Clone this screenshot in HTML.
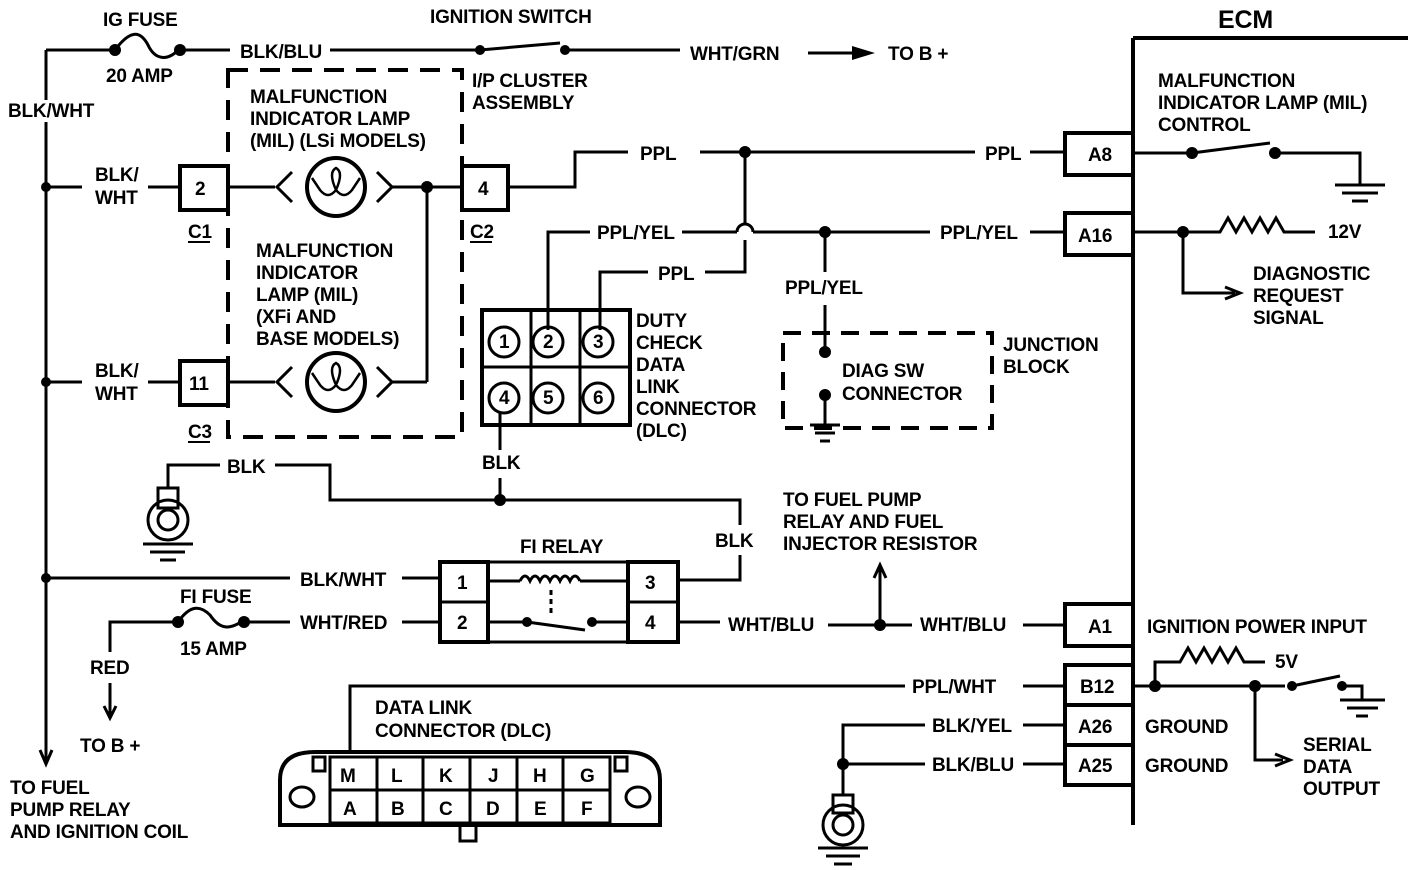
<!DOCTYPE html>
<html><head><meta charset="utf-8"><style>
html,body{margin:0;padding:0;background:#fff;}
svg{display:block;}
text{font-family:"Liberation Sans",sans-serif;font-weight:bold;font-size:19px;fill:#000;letter-spacing:-0.2px;}
</style></head><body>
<svg width="1408" height="870" viewBox="0 0 1408 870" xmlns="http://www.w3.org/2000/svg">
<g stroke="#000" stroke-width="3" fill="none">
<path d="M46 50 V100 M46 122 V760"/>
<path d="M46 50 H115"/>
<path d="M115 50 C130 30,140 30,148 45 C155 60,168 62,180 48"/>
<path d="M180 50 H230 M330 50 H480 M480 50 L560 43 M565 50 H680 M808 53 H860"/>
<rect x="228" y="70" width="234" height="367" stroke-dasharray="20,12" stroke-width="4"/>
<path d="M46 187 H82 M148 187 H180"/>
<rect x="180" y="166" width="48" height="44" stroke-width="4"/>
<path d="M228 187 H275 M390 187 H462"/>
<circle cx="336" cy="187" r="29" stroke-width="4"/>
<path d="M292 172 L277 187 L292 202 M377 172 L392 187 L377 202"/>
<path d="M312 178 L320 190 Q328 200 336 190 Q344 200 352 190 L360 178 M336 190 Q328 172 336 168 Q344 172 336 190" stroke-width="2.5"/>
<path d="M427 187 V382 M390 382 H427"/>
<path d="M46 382 H82 M148 382 H180"/>
<rect x="180" y="361" width="48" height="44" stroke-width="4"/>
<path d="M228 382 H275"/>
<circle cx="336" cy="382" r="29" stroke-width="4"/>
<path d="M292 367 L277 382 L292 397 M377 367 L392 382 L377 397"/>
<path d="M312 373 L320 385 Q328 395 336 385 Q344 395 352 385 L360 373 M336 385 Q328 367 336 363 Q344 367 336 385" stroke-width="2.5"/>
<rect x="462" y="166" width="46" height="44" stroke-width="4"/>
<path d="M508 187 H575 V152 H628 M700 152 H975 M1030 152 H1065"/>
<path d="M188 242 H210 M470 242 H492 M188 442 H210" stroke-width="2"/>
<path d="M548 330 V232 H590 M682 232 H737 M753 232 H930 M1030 232 H1065"/>
<path d="M737 232 A8 8 0 0 1 753 232"/>
<path d="M745 152 V224 M745 240 V272 H705 M648 272 H600 V330"/>
<path d="M825 232 V272 M825 305 V352 M825 395 V425"/>
<path d="M810 425 H840 M815 433 H835 M820 441 H830"/>
<rect x="783" y="333" width="209" height="95" stroke-dasharray="18,11" stroke-width="4"/>
<rect x="1065" y="133" width="68" height="42" stroke-width="4"/>
<rect x="1065" y="213" width="68" height="42" stroke-width="4"/>
<rect x="482" y="310" width="148" height="115" stroke-width="4"/>
<path d="M531 310 V425 M580 310 V425 M482 367 H630"/>
<circle cx="504" cy="342" r="15"/><circle cx="548" cy="342" r="15"/><circle cx="598" cy="342" r="15"/>
<circle cx="504" cy="398" r="15"/><circle cx="548" cy="398" r="15"/><circle cx="598" cy="398" r="15"/>
<path d="M500 413 V450 M500 478 V500"/>
<path d="M168 488 V465 H220 M275 465 H330 V500 H740 V525 M740 555 V580 H680"/>
<rect x="158" y="488" width="20" height="20"/>
<circle cx="168" cy="520" r="20"/><circle cx="168" cy="520" r="10"/>
<path d="M143 544 H193 M150 552 H185 M160 560 H176"/>
<path d="M46 578 H290 M402 578 H440"/>
<rect x="440" y="562" width="48" height="80" stroke-width="4"/>
<path d="M440 602 H488"/>
<rect x="628" y="562" width="50" height="80" stroke-width="4"/>
<path d="M628 602 H678"/>
<path d="M488 562 H628 M488 642 H628"/>
<path d="M488 581 H520 M580 581 H628 M520 581 q5 -10 10 0 q5 -10 10 0 q5 -10 10 0 q5 -10 10 0 q5 -10 10 0 q5 -10 10 0"/>
<path d="M551 590 V615" stroke-dasharray="5,4"/>
<path d="M488 622 H526 M527 622 L585 630 M595 622 H628"/>
<path d="M110 652 V622 H178 M178 622 C190 605,200 605,210 615 C220 630,230 630,244 620 M244 622 H290 M402 622 H440"/>
<path d="M110 683 V715"/>
<path d="M104 706 L110 718 L116 706"/>
<path d="M40 750 L46 764 L52 750"/>
<path d="M678 622 H720 M828 625 H912 M1023 625 H1065 M880 625 V568"/>
<path d="M874 578 L880 565 L886 578"/>
<rect x="1065" y="604" width="68" height="42" stroke-width="4"/>
<path d="M1133 38 V825" stroke-width="4"/>
<path d="M1133 38 H1408" stroke-width="4"/>
<rect x="1065" y="665" width="68" height="40" stroke-width="4"/>
<rect x="1065" y="705" width="68" height="40" stroke-width="4"/>
<rect x="1065" y="745" width="68" height="40" stroke-width="4"/>
<path d="M350 750 V686 H905 M1023 686 H1065"/>
<path d="M843 795 V725 H925 M1023 725 H1065 M843 764 H925 M1023 764 H1065"/>
<rect x="833" y="795" width="20" height="18"/>
<circle cx="843" cy="825" r="20"/><circle cx="843" cy="825" r="10"/>
<path d="M818 848 H868 M826 856 H860 M834 864 H852"/>
<path d="M1133 153 H1192 M1192 153 L1270 143 M1275 153 H1360 V185 M1335 185 H1385 M1342 193 H1378 M1352 201 H1368"/>
<path d="M1133 232 H1220 l8 -14 l8 14 l8 -14 l8 14 l8 -14 l8 14 l8 -14 l8 14 H1315 M1183 232 V293 H1235"/>
<path d="M1225 287 L1240 293 L1225 299"/>
<path d="M1133 686 H1285 M1155 686 V662 H1180 l8 -14 l8 14 l8 -14 l8 14 l8 -14 l8 14 l8 -14 l8 14 H1265"/>
<path d="M1292 686 L1340 676 M1342 686 H1362 V700 M1340 700 H1385 M1347 708 H1378 M1356 716 H1368"/>
<path d="M1255 686 V760 H1283 M1275 754 L1290 760 L1275 766"/>
<path d="M280 825 V780 Q280 752 315 752 H625 Q660 752 660 780 V825 Z" stroke-width="4"/>
<rect x="330" y="757" width="280" height="66"/>
<path d="M330 790 H610 M377 757 V823 M423 757 V823 M470 757 V823 M517 757 V823 M563 757 V823"/>
<rect x="313" y="757" width="12" height="14"/><rect x="615" y="757" width="12" height="14"/>
<ellipse cx="302" cy="797" rx="12" ry="10"/><ellipse cx="638" cy="797" rx="12" ry="10"/>
<rect x="460" y="825" width="16" height="16"/>
</g>
<g fill="#000">
<circle cx="115" cy="50" r="6"/><circle cx="180" cy="50" r="6"/>
<circle cx="480" cy="50" r="5"/><circle cx="565" cy="50" r="5"/>
<path d="M852 46 L875 53 L852 60 Z"/>
<circle cx="46" cy="187" r="5"/><circle cx="46" cy="382" r="5"/><circle cx="46" cy="578" r="5"/>
<circle cx="427" cy="187" r="6"/>
<circle cx="745" cy="152" r="6"/><circle cx="825" cy="232" r="6"/>
<circle cx="825" cy="352" r="6"/><circle cx="825" cy="395" r="6"/>
<circle cx="500" cy="500" r="6"/>
<circle cx="527" cy="622" r="5"/><circle cx="592" cy="622" r="5"/>
<circle cx="178" cy="622" r="6"/><circle cx="244" cy="622" r="6"/>
<circle cx="880" cy="625" r="6"/>
<circle cx="843" cy="764" r="6"/>
<circle cx="1192" cy="153" r="6"/><circle cx="1275" cy="153" r="6"/>
<circle cx="1183" cy="232" r="6"/>
<circle cx="1155" cy="686" r="6"/><circle cx="1255" cy="686" r="6"/><circle cx="1292" cy="686" r="5"/><circle cx="1342" cy="686" r="5"/>
</g>
<text x="103" y="26">IG FUSE</text>
<text x="106" y="82">20 AMP</text>
<text x="240" y="58">BLK/BLU</text>
<text x="430" y="23">IGNITION SWITCH</text>
<text x="690" y="60">WHT/GRN</text>
<text x="888" y="60">TO B +</text>
<text x="8" y="117">BLK/WHT</text>
<text x="472" y="87">I/P CLUSTER</text>
<text x="472" y="109">ASSEMBLY</text>
<text x="250" y="103">MALFUNCTION</text>
<text x="250" y="125">INDICATOR LAMP</text>
<text x="250" y="147">(MIL) (LSi MODELS)</text>
<text x="95" y="181">BLK/</text><text x="95" y="204">WHT</text>
<text x="195" y="195">2</text>
<text x="188" y="238">C1</text>
<text x="478" y="195">4</text>
<text x="470" y="238">C2</text>
<text x="256" y="257">MALFUNCTION</text>
<text x="256" y="279">INDICATOR</text>
<text x="256" y="301">LAMP (MIL)</text>
<text x="256" y="323">(XFi AND</text>
<text x="256" y="345">BASE MODELS)</text>
<text x="95" y="377">BLK/</text><text x="95" y="400">WHT</text>
<text x="189" y="390">11</text>
<text x="188" y="438">C3</text>
<text x="640" y="160">PPL</text>
<text x="985" y="160">PPL</text>
<text x="1088" y="161">A8</text>
<text x="597" y="239">PPL/YEL</text>
<text x="940" y="239">PPL/YEL</text>
<text x="1078" y="242">A16</text>
<text x="658" y="280">PPL</text>
<text x="785" y="294">PPL/YEL</text>
<text x="842" y="377">DIAG SW</text>
<text x="842" y="400">CONNECTOR</text>
<text x="1003" y="351">JUNCTION</text>
<text x="1003" y="373">BLOCK</text>
<text x="636" y="327">DUTY</text>
<text x="636" y="349">CHECK</text>
<text x="636" y="371">DATA</text>
<text x="636" y="393">LINK</text>
<text x="636" y="415">CONNECTOR</text>
<text x="636" y="437">(DLC)</text>
<g style="font-size:15px"><text x="499" y="348">1</text><text x="543" y="348">2</text><text x="593" y="348">3</text><text x="499" y="404">4</text><text x="543" y="404">5</text><text x="593" y="404">6</text></g>
<text x="482" y="469">BLK</text>
<text x="227" y="473">BLK</text>
<text x="715" y="547">BLK</text>
<text x="783" y="506">TO FUEL PUMP</text>
<text x="783" y="528">RELAY AND FUEL</text>
<text x="783" y="550">INJECTOR RESISTOR</text>
<text x="520" y="553">FI RELAY</text>
<text x="300" y="586">BLK/WHT</text>
<text x="457" y="589">1</text><text x="457" y="629">2</text><text x="645" y="589">3</text><text x="645" y="629">4</text>
<text x="180" y="603">FI FUSE</text>
<text x="180" y="655">15 AMP</text>
<text x="300" y="629">WHT/RED</text>
<text x="90" y="674">RED</text>
<text x="80" y="752">TO B +</text>
<text x="728" y="631">WHT/BLU</text>
<text x="920" y="631">WHT/BLU</text>
<text x="1088" y="633">A1</text>
<text x="1147" y="633">IGNITION POWER INPUT</text>
<text x="1218" y="28" style="font-size:25px">ECM</text>
<text x="1158" y="87">MALFUNCTION</text>
<text x="1158" y="109">INDICATOR LAMP (MIL)</text>
<text x="1158" y="131">CONTROL</text>
<text x="1328" y="238">12V</text>
<text x="1253" y="280">DIAGNOSTIC</text>
<text x="1253" y="302">REQUEST</text>
<text x="1253" y="324">SIGNAL</text>
<text x="912" y="693">PPL/WHT</text>
<text x="1080" y="693">B12</text>
<text x="1275" y="668">5V</text>
<text x="932" y="732">BLK/YEL</text>
<text x="1078" y="733">A26</text>
<text x="1145" y="733">GROUND</text>
<text x="932" y="771">BLK/BLU</text>
<text x="1078" y="772">A25</text>
<text x="1145" y="772">GROUND</text>
<text x="1303" y="751">SERIAL</text>
<text x="1303" y="773">DATA</text>
<text x="1303" y="795">OUTPUT</text>
<text x="375" y="714">DATA LINK</text>
<text x="375" y="737">CONNECTOR (DLC)</text>
<text x="10" y="794">TO FUEL</text>
<text x="10" y="816">PUMP RELAY</text>
<text x="10" y="838">AND IGNITION COIL</text>
<g style="font-size:17px">
<text x="340" y="782">M</text><text x="391" y="782">L</text><text x="439" y="782">K</text><text x="488" y="782">J</text><text x="533" y="782">H</text><text x="580" y="782">G</text>
<text x="343" y="815">A</text><text x="391" y="815">B</text><text x="439" y="815">C</text><text x="486" y="815">D</text><text x="534" y="815">E</text><text x="581" y="815">F</text>
</g>
</svg>
</body></html>
